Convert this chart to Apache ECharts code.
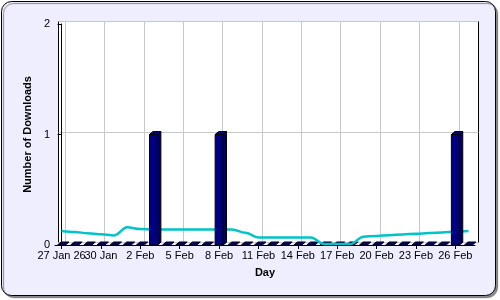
<!DOCTYPE html>
<html>
<head>
<meta charset="utf-8">
<script src="https://cdn.jsdelivr.net/npm/echarts@6/dist/echarts.min.js"></script>
<style>
html,body{margin:0;padding:0;background:#fff;}
#c{width:500px;height:300px;}
</style>
</head>
<body>
<div id="c"></div>
<script>
// ---- data ----
const dayLabels = ['27 Jan 26','28 Jan','29 Jan','30 Jan','31 Jan','1 Feb','2 Feb','3 Feb','4 Feb','5 Feb',
  '6 Feb','7 Feb','8 Feb','9 Feb','10 Feb','11 Feb','12 Feb','13 Feb','14 Feb','15 Feb',
  '16 Feb','17 Feb','18 Feb','19 Feb','20 Feb','21 Feb','22 Feb','23 Feb','24 Feb','25 Feb',
  '26 Feb','27 Feb'];
const tickDays = [0,3,6,9,12,15,18,21,24,27,30];
const downloads = [0,0,0,0,0,0,0,1,0,0, 0,0,1,0,0,0,0,0,0,0, 0,0,0,0,0,0,0,0,0,0, 1,0];
const trend = [0.127,0.117,0.107,0.097,0.087,0.16,0.145,0.14,0.14,0.14,
  0.14,0.14,0.14,0.14,0.11,0.068,0.068,0.068,0.068,0.068,
  0.008,0.008,0.008,0.075,0.082,0.089,0.096,0.102,0.108,0.114,
  0.12,0.127];
const yTicks = [0,1,2];

const DX = 3.5, DY = 3;
const FONT = '"Liberation Sans", Arial, sans-serif';

function barItem(full){
  return function(params, api){
    const x = api.value(0), v = api.value(1);
    if (full && !(v > 0)) return null;
    const base = api.coord([x, 0]);
    const top = api.coord([x, full ? v : 0]);
    const w = api.size([0.6, 0])[0];
    const l = base[0] - w/2, r = base[0] + w/2;
    const st = {stroke:'#000', lineWidth:1};
    const children = [];
    if (full) {
      children.push({type:'polygon', shape:{points:[[r,top[1]],[r+DX,top[1]-DY],[r+DX,base[1]-DY],[r,base[1]]]},
        style:Object.assign({fill:'#000060'}, st)});
      children.push({type:'rect', shape:{x:l, y:top[1], width:w, height:base[1]-top[1]},
        style:Object.assign({fill:'#000080'}, st)});
    }
    children.push({type:'polygon', shape:{points:[[l,top[1]],[l+DX,top[1]-DY],[r+DX,top[1]-DY],[r,top[1]]]},
      style:Object.assign({fill:'#000080'}, st)});
    return {type:'group', children};
  };
}

const labelStyle = {fontSize:11, color:'#000', margin:5, fontFamily:FONT, formatter:v=>dayLabels[v]};

const chart = echarts.init(document.getElementById('c'), null, {renderer:'canvas'});
chart.setOption({
  animation:false,
  textStyle:{fontFamily:FONT},
  graphic:[{type:'rect', z:-100, shape:{x:1.5,y:1.5,width:494,height:294,r:10},
    style:{fill:'#EEEEFF', stroke:'#000', lineWidth:1, shadowColor:'rgba(0,0,0,0.45)', shadowOffsetX:2, shadowOffsetY:2, shadowBlur:1}}],
  grid:[
    {left:58.5, top:21.5, width:420, height:221, show:true, backgroundColor:'#fff', borderColor:'#000', borderWidth:1},
    {left:55, top:24, width:420, height:221, show:false}
  ],
  xAxis:[
    {gridIndex:0, type:'value', min:-0.5, max:31.5,
      axisLine:{show:false}, axisTick:{show:false, customValues:tickDays}, axisLabel:{show:false, customValues:tickDays},
      splitLine:{show:true, lineStyle:{color:'#c8c8c8', width:1}}},
    {gridIndex:1, type:'value', position:'bottom', min:-0.5, max:31.5,
      name:'Day', nameLocation:'middle', nameGap:22,
      nameTextStyle:{fontWeight:'bold', fontSize:11, color:'#000', fontFamily:FONT},
      axisLine:{show:true, lineStyle:{color:'#000', width:1}},
      axisTick:{show:true, length:4, customValues:tickDays, lineStyle:{color:'#000'}},
      axisLabel:Object.assign({customValues:tickDays.slice(1)}, labelStyle),
      splitLine:{show:false}},
    {gridIndex:1, type:'value', position:'bottom', offset:0, min:-0.5, max:31.5,
      axisLine:{show:false}, axisTick:{show:false},
      axisLabel:Object.assign({customValues:tickDays.slice(0,1)}, labelStyle),
      splitLine:{show:false}}
  ],
  yAxis:[
    {gridIndex:0, type:'value', min:0, max:2, interval:1,
      axisLine:{show:false}, axisTick:{show:false}, axisLabel:{show:false},
      splitLine:{show:true, lineStyle:{color:'#c8c8c8', width:1}}},
    {gridIndex:1, type:'value', min:0, max:2, interval:1,
      name:'Number of Downloads', nameLocation:'middle', nameGap:19,
      nameTextStyle:{fontWeight:'bold', fontSize:11, color:'#000', fontFamily:FONT},
      axisLine:{show:true, lineStyle:{color:'#000', width:1}},
      axisTick:{show:true, length:4, lineStyle:{color:'#000'}},
      axisLabel:{fontSize:11, color:'#000', margin:5, fontFamily:FONT, formatter:v=>String(yTicks[v])},
      splitLine:{show:false}}
  ],
  series:[
    {type:'custom', xAxisIndex:1, yAxisIndex:1, z:2, clip:false, renderItem:barItem(false),
      data:downloads.map((v,i)=>[i,v])},
    {type:'line', xAxisIndex:1, yAxisIndex:1, z:3, smooth:0.35, smoothMonotone:'x', showSymbol:false,
      lineStyle:{color:'#00C4C8', width:2.5}, data:trend.map((v,i)=>[i,v])},
    {type:'custom', xAxisIndex:1, yAxisIndex:1, z:4, clip:false, renderItem:barItem(true),
      data:downloads.map((v,i)=>[i,v])}
  ]
});
</script>
</body>
</html>
